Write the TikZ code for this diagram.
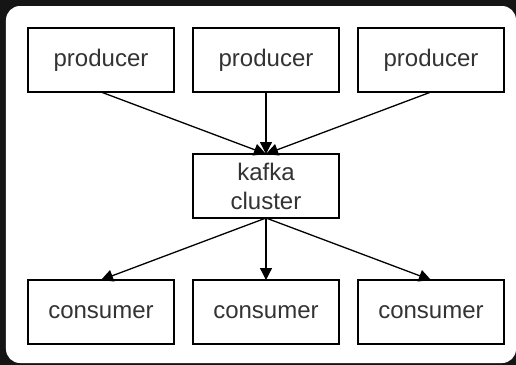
\documentclass[tikz,border=0pt]{standalone}
\usepackage{fontspec}
\setmainfont{Liberation Sans}
\usetikzlibrary{positioning,arrows.meta}
\definecolor{frame}{HTML}{151515}

\begin{document}
\begin{tikzpicture}[
    node distance=31pt and 9.5pt,
 mybox/.style = {
        draw, rectangle, align=center, minimum width=73pt,
        minimum height=32pt, text=black!80,
        font=\fontsize{12}{14.5}\selectfont,
        inner sep=2pt, outer sep=0pt, line width=0.65pt},
     arrow/.style = {line width=0.65pt,-{Triangle[length=6pt,width=6pt]}}
                    ]
% the frame
\fill[frame] (0,0) rectangle (258pt,-182.5pt);
\fill[white, rounded corners=7pt] (3pt,-3pt) rectangle (258pt,-181.5pt);
% the producers at the top
\node (p1) [mybox] at (50.5pt,-30pt) {producer};
\node (p2) [mybox, right=of p1]      {producer};
\node (p3) [mybox, right=of p2]      {producer};
% the cluster in the middle
\node (kc) [mybox, below=of p2]      {kafka\\cluster};
% the consumers at the bottom
\node (c2) [mybox, below=of kc]      {consumer};
\node (c1) [mybox, left=of c2]       {consumer};
\node (c3) [mybox, right=of c2]      {consumer};
% arrows
\draw[arrow] (p1.south) -- (kc.north);
\draw[arrow] (p2.south) -- (kc.north);
\draw[arrow] (p3.south) -- (kc.north);
\draw[arrow] (kc.south) -- (c1.north);
\draw[arrow] (kc.south) -- (c2.north);
\draw[arrow] (kc.south) -- (c3.north);
\end{tikzpicture}
\end{document}
